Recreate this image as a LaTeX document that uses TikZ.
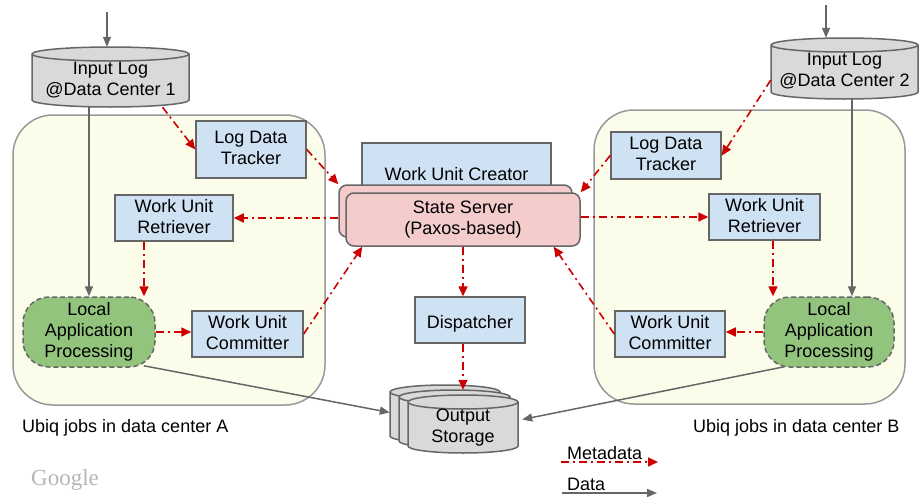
\documentclass[tikz,border=0pt]{standalone}
\usepackage{fontspec}
\setmainfont{Liberation Sans}
\newfontfamily\logofont{Liberation Serif}
\usetikzlibrary{arrows.meta,calc}

\definecolor{boxblue}{HTML}{CFE2F3}
\definecolor{boxpink}{HTML}{F4CCCC}
\definecolor{appgreen}{HTML}{93C47D}
\definecolor{drumgray}{HTML}{D9D9D9}
\definecolor{edgegray}{HTML}{666666}
\definecolor{zonefill}{HTML}{FBFCEA}
\definecolor{zoneedge}{HTML}{999999}
\definecolor{metared}{HTML}{CC0000}
\definecolor{logogray}{HTML}{B5B5B5}

% storage drum: left x, top of lid y, right x, bottom y
\newcommand\drum[4]{%
  \pgfmathsetmacro\drx{(#3-#1)/2}%
  \filldraw[drumline] (#1,#2+7) -- (#1,#4-7)
     arc[start angle=180,end angle=360,x radius=\drx pt,y radius=7pt]
     -- (#3,#2+7)
     arc[start angle=0,end angle=180,x radius=\drx pt,y radius=7pt] -- cycle;
  \draw[drumline] (#1,#2+7)
     arc[start angle=180,end angle=360,x radius=\drx pt,y radius=7pt];
}

\tikzset{
  lined text/.style={align=center,
     execute at begin node={\rule{0pt}{20pt}},
     execute at end node={\rule[-4pt]{0pt}{4pt}}},
  box/.style={draw=edgegray, fill=boxblue, line width=1.5pt, inner sep=0pt, lined text},
  server/.style={draw=edgegray, fill=boxpink, line width=1.5pt, rounded corners=8pt, inner sep=0pt, lined text},
  app/.style={draw=edgegray, fill=appgreen, line width=1.5pt, dash pattern=on 5pt off 3pt,
              rounded corners=26pt, inner sep=0pt, lined text},
  zone/.style={draw=zoneedge, fill=zonefill, line width=1.5pt, rounded corners=40pt, inner sep=0pt},
  drumline/.style={draw=edgegray, fill=drumgray, line width=1.5pt},
  drumtext/.style={inner sep=0pt, lined text},
  meta/.style={draw=metared, line width=1.6pt, dash pattern=on 8pt off 4pt on 2pt off 4pt,
               -{Triangle[length=10pt,width=9pt]}},
  data/.style={draw=edgegray, line width=1.5pt, -{Triangle[length=10pt,width=8pt]}},
  caption/.style={anchor=base west, inner sep=0pt},
}

\begin{document}
\begin{tikzpicture}[x=1pt, y=-1pt, font=\fontsize{18}{21}\selectfont]
\useasboundingbox (0,0) rectangle (919,498);

% data-center zones
\node[zone, minimum width=312pt, minimum height=290pt] (zoneA) at (169,260) {};
\node[zone, minimum width=311pt, minimum height=294pt] (zoneB) at (749.5,257) {};

% input logs
\drum{32}{47}{189}{107}
\node[drumtext, minimum width=157pt, minimum height=53pt] (in1) at (110.5,80.5) {Input Log\\@Data Center 1};
\drum{771}{38}{918}{99}
\node[drumtext, minimum width=147pt, minimum height=54pt] (in2) at (844.5,72) {Input Log\\@Data Center 2};

% output storage (stack of three drums)
\drum{390}{385}{500}{443}
\node[inner sep=0pt, minimum width=110pt, minimum height=50pt] (outb) at (445,417.5) {};
\drum{399}{390}{510}{448}
\drum{408}{395}{518}{453}
\node[drumtext, minimum width=110pt, minimum height=51pt] (out) at (463,427.5) {Output\\Storage};

% left data center
\node[box, minimum width=110pt, minimum height=57pt] (trkA) at (251,149.5) {Log Data\\Tracker};
\node[box, minimum width=118pt, minimum height=46pt] (retA) at (174,218) {Work Unit\\Retriever};
\node[app, minimum width=132pt, minimum height=70pt] (lapA) at (89,332) {Local\\Application\\Processing};
\node[box, minimum width=111pt, minimum height=46pt] (cmA) at (247.5,334) {Work Unit\\Committer};

% central services
\node[box, minimum width=189pt, minimum height=58pt] (wuc) at (456.5,172) {Work Unit Creator};
\node[server, minimum width=233pt, minimum height=52pt] (ssb) at (455.5,211) {};
\node[server, minimum width=234pt, minimum height=53pt] (ss) at (463,219.5) {State Server\\(Paxos-based)};
\node[box, minimum width=110pt, minimum height=46pt] (disp) at (470,320) {Dispatcher};

% right data center
\node[box, minimum width=110pt, minimum height=47pt] (trkB) at (666,155.5) {Log Data\\Tracker};
\node[box, minimum width=111pt, minimum height=46pt] (retB) at (764.5,217) {Work Unit\\Retriever};
\node[app, minimum width=130pt, minimum height=70pt] (lapB) at (829,332) {Local\\Application\\Processing};
\node[box, minimum width=110pt, minimum height=46pt] (cmB) at (670,334) {Work Unit\\Committer};

% captions
\node[caption] (capA) at (22,432) {Ubiq jobs in data center A};
\node[caption] (capB) at (693,432) {Ubiq jobs in data center B};
\node[caption, font=\logofont\fontsize{23}{23}\selectfont, text=logogray] (logo) at (31,485) {Google};

% data flow
\coordinate (src1) at (107,12);
\coordinate (src2) at (826,5);
\draw[data] (src1) -- ($(in1.north -| src1)+(0,-7)$);
\draw[data] (src2) -- ($(in2.north -| src2)+(0,-7)$);
\draw[data] (in1.south -| lapA.north) -- (lapA.north);
\coordinate (tapB) at ($(lapB.north)+(23,0)$);
\draw[data] (in2.south -| tapB) -- (tapB);
\draw[data] ($(lapA.south east)+(-12,-2)$) -- ($(outb.west)+(0,-5)$);
\draw[data] ($(lapB.south west)+(21,-1)$) -- ($(out.east)+(4,-8)$);

% metadata flow
\draw[meta] ($(in1.south)+(52,0)$) -- (trkA.west);
\draw[meta] (trkA.east) -- (ssb.north west);
\draw[meta] (ssb.west |- retA.east) -- (retA.east);
\coordinate (rAd) at ($(retA.south)+(-30,0)$);
\draw[meta] (rAd) -- (rAd |- lapA.north);
\draw[meta] (lapA.east) -- (cmA.west |- lapA.east);
\draw[meta] (cmA.east) -- ($(ss.south west)+(17,0)$);

\draw[meta] ($(in2.west)+(0,8)$) -- (trkB.east);
\draw[meta] (trkB.west) -- (ss.north east);
\draw[meta] (ss.east |- retB.west) -- (retB.west);
\coordinate (rBd) at ($(retB.south)+(8.5,0)$);
\draw[meta] (rBd) -- (rBd |- lapB.north);
\draw[meta] (lapB.west) -- (cmB.east |- lapB.west);
\draw[meta] (cmB.west) -- ($(ss.south east)+(-27,0)$);

\draw[meta] (ss.south) -- (ss.south |- disp.north);
\draw[meta] (ss.south |- disp.south) -- ($(ss.south |- out.north)+(0,-12)$);

% legend
\node[caption] (legmeta) at (567,459) {Metadata};
\coordinate (lm0) at (561,462);
\coordinate (lm1) at (658,462);
\draw[meta] (lm0) -- (lm1);
\node[caption] (legdata) at (567,490) {Data};
\coordinate (ld0) at (562,493);
\coordinate (ld1) at (657,493);
\draw[data] (ld0) -- (ld1);
\end{tikzpicture}
\end{document}
